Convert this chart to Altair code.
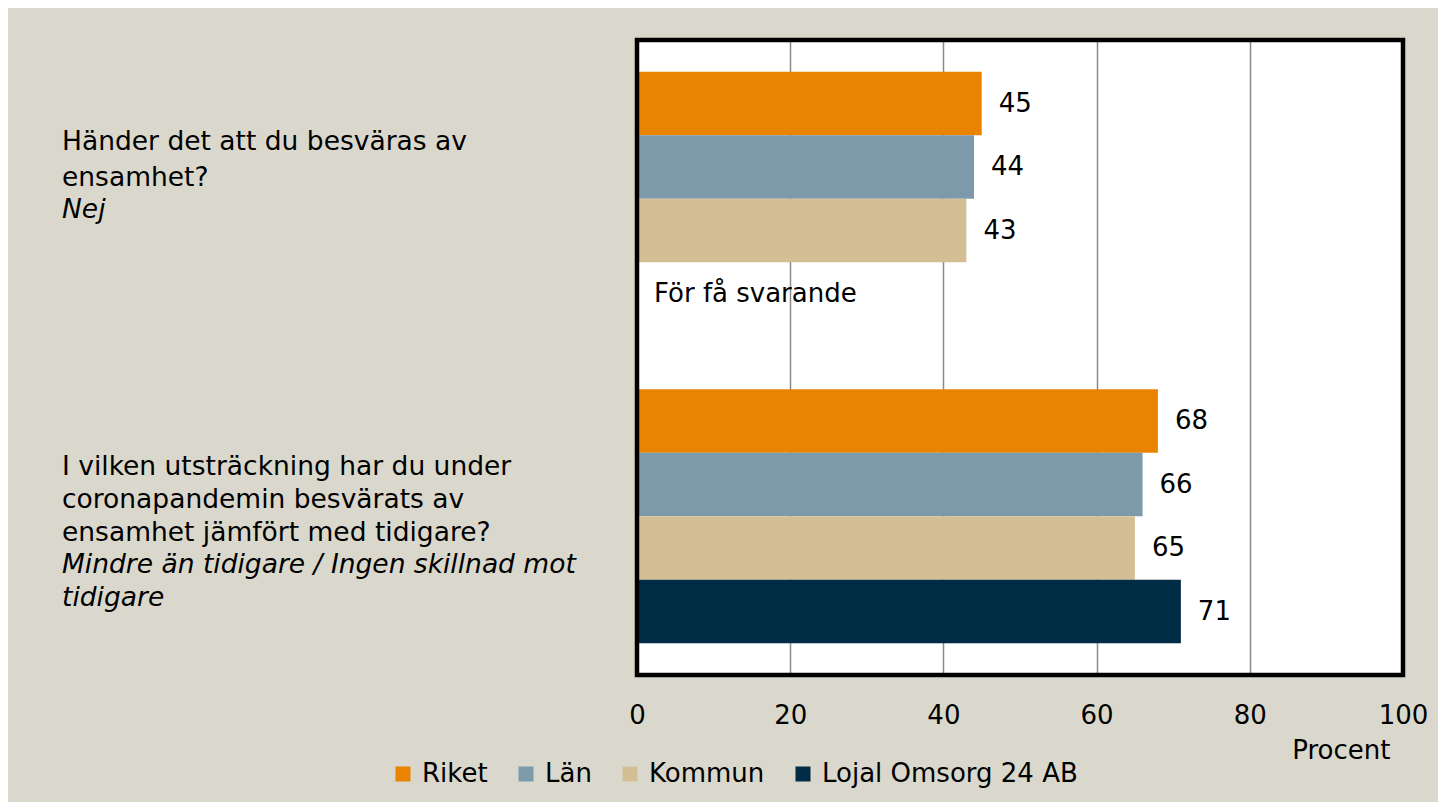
import altair as alt
import pandas as pd

# ---- data ----
series = ["Riket", "Län", "Kommun", "Lojal Omsorg 24 AB"]
colors = ["#E98300", "#7D9AAA", "#D4BF95", "#002B45"]
question_ids = ["Q1", "Q2"]
q1_values = [45, 44, 43, None]
q2_values = [68, 66, 65, 71]
q1_text = ["Händer det att du besväras av", "ensamhet?"]
q1_answer = ["Nej"]
q2_text = ["I vilken utsträckning har du under", "coronapandemin besvärats av",
           "ensamhet jämfört med tidigare?"]
q2_answer = ["Mindre än tidigare / Ingen skillnad mot", "tidigare"]
missing_note = "För få svarande"
x_ticks = [0, 20, 40, 60, 80, 100]
x_title = "Procent"

rows = []
for q, vals in zip(question_ids, [q1_values, q2_values]):
    for s, v in zip(series, vals):
        if v is not None:
            rows.append({"question": q, "series": s, "value": v})
df = pd.DataFrame(rows)
missing_df = pd.DataFrame([{"question": "Q1", "series": series[3], "value": 0}])

FONT = "DejaVu Sans"
W, H = 766, 635

y_enc = alt.Y("question:N", sort=question_ids,
              scale=alt.Scale(domain=question_ids, paddingInner=0.2, paddingOuter=0.1),
              axis=None)
yoff_enc = alt.YOffset("series:N", sort=series,
                       scale=alt.Scale(domain=series, paddingInner=0, paddingOuter=0))
x_enc = alt.X("value:Q",
              scale=alt.Scale(domain=[0, 100], nice=False),
              axis=alt.Axis(values=x_ticks, title=x_title, grid=True,
                            gridColor="#8a8a8a", gridWidth=1.5,
                            domain=False, ticks=False, tickSize=0,
                            labelFlush=False,
                            labelPadding=27, labelFontSize=26, labelColor="#000000",
                            labelFont=FONT,
                            titleFontSize=26, titleFontWeight="normal", titleColor="#000000",
                            titleFont=FONT,
                            titleAnchor="end", titleAlign="right", titleBaseline="middle",
                            titleX=753, titleY=75))

bars = alt.Chart(df).mark_bar(stroke=None).encode(
    x=x_enc,
    y=y_enc,
    yOffset=yoff_enc,
    color=alt.Color("series:N", sort=series,
                    scale=alt.Scale(domain=series, range=colors),
                    legend=alt.Legend(title=None, orient="none", legendX=-247, legendY=721,
                                      direction="horizontal", columns=4,
                                      symbolType="square", symbolSize=225,
                                      symbolStrokeWidth=0, symbolOpacity=1,
                                      labelFontSize=26, labelFont=FONT, labelColor="#000000",
                                      labelLimit=400,
                                      labelOffset=6, columnPadding=25)),
)

value_labels = alt.Chart(df).mark_text(
    align="left", baseline="middle", dx=17, fontSize=26, font=FONT, color="#000000"
).encode(
    x="value:Q",
    y=y_enc,
    yOffset=yoff_enc,
    text=alt.Text("value:Q", format="d"),
)

missing_label = alt.Chart(missing_df).mark_text(
    align="left", baseline="middle", dx=17, fontSize=26, font=FONT, color="#000000",
    text=missing_note
).encode(
    x="value:Q",
    y=y_enc,
    yOffset=yoff_enc,
)

q_df1 = pd.DataFrame({"question": ["Q1"]})
q_df2 = pd.DataFrame({"question": ["Q2"]})

def qlabel(dfq, lines, dy, italic, lh=33):
    return alt.Chart(dfq).mark_text(
        text=lines, align="left", baseline="alphabetic", dy=dy,
        fontSize=26.5, font=FONT, color="#000000", lineHeight=lh,
        fontStyle="italic" if italic else "normal",
    ).encode(x=alt.value(-575), y=y_enc)

labels = [
    qlabel(q_df1, q1_text, -49, False, lh=36),
    qlabel(q_df1, q1_answer, 19, True),
    qlabel(q_df2, q2_text, -41, False),
    qlabel(q_df2, q2_answer, 57, True),
]

# plot frame drawn on top of the bars
frame = alt.Chart(pd.DataFrame({"f": [0]})).mark_rect(
    fill=None, fillOpacity=0, stroke="#000000", strokeWidth=4.5
).encode(x=alt.value(0), x2=alt.value(W), y=alt.value(0), y2=alt.value(H))

chart = alt.layer(bars, value_labels, missing_label, *labels, frame).properties(
    width=W, height=H,
    background="#DAD8CC",
    padding={"left": 629, "top": 32, "right": 35, "bottom": 127},
    autosize=alt.AutoSizeParams(type="none"),
).configure(
    font=FONT
).configure_view(
    fill="#FFFFFF", strokeWidth=0
)

chart.save("out.html", embed_options={"renderer": "svg", "actions": False})
